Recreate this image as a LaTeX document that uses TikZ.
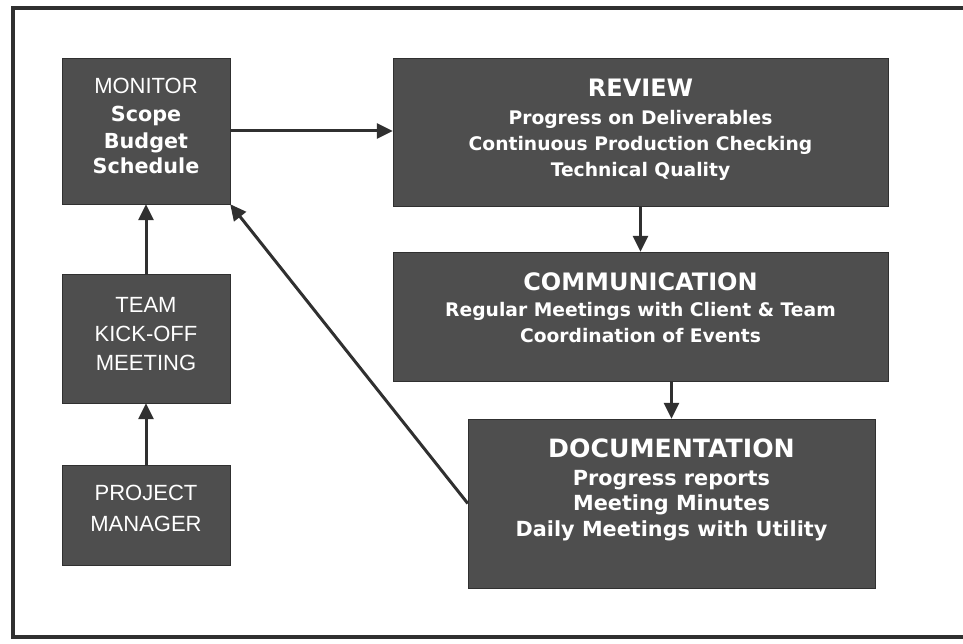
\documentclass[tikz,border=0pt]{standalone}
\usepackage{fontspec}
\setmainfont{DejaVu Sans}
\newfontfamily\arialfont{Liberation Sans}
\usetikzlibrary{arrows.meta}

\definecolor{boxgray}{RGB}{78,78,78}
\definecolor{linegray}{RGB}{48,48,48}

\newcommand{\mbold}[1]{{\rmfamily\bfseries\fontsize{20.7}{26}\selectfont #1}}
\newcommand{\boxtitle}[1]{{\fontsize{24}{30}\selectfont #1}}
\newcommand{\dropby}[1]{\rule[-#1]{0pt}{#1}}

\tikzstyle{stagebox}=[rectangle,
                         draw=linegray,
                         fill=boxgray,
                         text=white,
                         inner sep=0pt,
                         align=center]
\tikzstyle{leftbox}=[stagebox,
                         minimum width=168pt,
                         font=\arialfont\fontsize{22}{29}\selectfont]
\tikzstyle{rightbox}=[stagebox,
                         font=\bfseries\fontsize{18.7}{26}\selectfont]
\tikzstyle{flow}=[line width=3pt,
                         draw=linegray,
                         -{Triangle[length=16pt,width=15pt]}]

\begin{document}
\begin{tikzpicture}[x=1pt,y=-1pt]
    \useasboundingbox (0,0) rectangle (963,644);
    \draw [line width=4pt, linegray] (963,8) -- (12.5,8) -- (12.5,636.5) -- (963,636.5);

    \node [leftbox, minimum height=146pt,
           font=\arialfont\fontsize{22}{27}\selectfont] (monitor) at (146,131)
        {MONITOR\\[1pt]\mbold{Scope}\\\mbold{Budget}\\[-2pt]\mbold{Schedule}\dropby{10pt}};
    \node [leftbox, minimum height=129pt] (team) at (146,338.5)
        {TEAM\\KICK-OFF\\MEETING\dropby{10pt}};
    \node [leftbox, minimum height=100pt] (pm) at (146,515)
        {PROJECT\\[2pt]MANAGER\dropby{13pt}};

    \node [rightbox, minimum width=495pt, minimum height=148pt] (review) at (640.5,132)
        {\boxtitle{REVIEW}\\[2pt]Progress on Deliverables\\Continuous Production Checking\\Technical Quality\dropby{8pt}};
    \node [rightbox, minimum width=495pt, minimum height=129pt] (comm) at (640.5,316.5)
        {\boxtitle{COMMUNICATION}\\Regular Meetings with Client \& Team\\Coordination of Events\dropby{17pt}};
    \node [rightbox, minimum width=407pt, minimum height=169pt,
           font=\bfseries\fontsize{20.8}{25.5}\selectfont] (doc) at (671.5,503.5)
        {{\fontsize{25.2}{30}\selectfont DOCUMENTATION}\\[2pt]Progress reports\\Meeting Minutes\\Daily Meetings with Utility\dropby{32pt}};

    \draw [flow] (monitor.east) -- (monitor.east -| review.west);
    \draw [flow] (review.south) -- (comm.north);
    \draw [flow] (doc.north |- comm.south) -- (doc.north);
    \draw [flow] (pm.north) -- (team.south);
    \draw [flow] (team.north) -- (monitor.south);
    \draw [flow] (doc.west) -- (monitor.south east);
\end{tikzpicture}
\end{document}
